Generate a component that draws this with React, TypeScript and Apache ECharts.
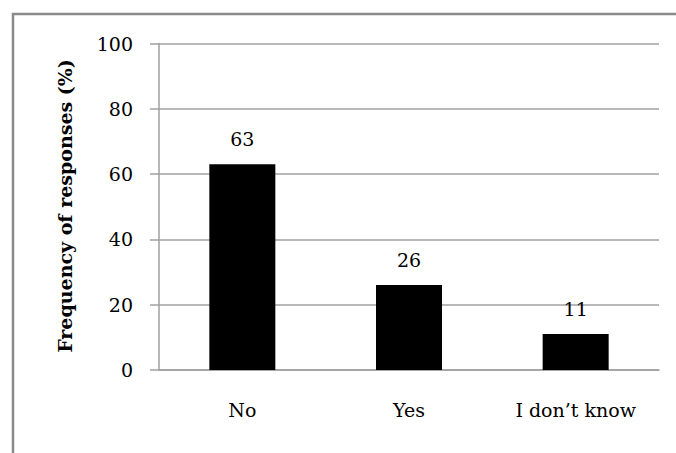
import React, { useEffect, useRef } from "react";
import * as echarts from "echarts";

const categories = ["No", "Yes", "I don\u2019t know"];
const values = [63, 26, 11];
const yTicks = [0, 20, 40, 60, 80, 100];
const yTitle = "Frequency of responses (%)";

export default function App() {
  const ref = useRef<HTMLDivElement>(null);
  useEffect(() => {
    if (!ref.current) return;
    const chart = echarts.init(ref.current, null, { renderer: "svg" });
    const font = "'DejaVu Serif', serif";
    chart.setOption({
      animation: false,
      backgroundColor: "#ffffff",
      graphic: [
        {
          type: "rect",
          shape: { x: 13, y: 14, width: 720, height: 520 },
          style: { fill: "none", stroke: "#8a8a8a", lineWidth: 2.5 },
          silent: true,
        },
        {
          type: "text",
          x: 65,
          y: 206,
          rotation: Math.PI / 2,
          style: {
            text: yTitle,
            font: `bold 19px ${font}`,
            fill: "#000",
            align: "center",
            verticalAlign: "middle",
          },
        },
      ],
      grid: { left: 159, right: 17, top: 43.5, bottom: 83, containLabel: false },
      xAxis: {
        type: "category",
        data: categories,
        axisLine: { show: true, lineStyle: { color: "#a0a0a0", width: 1.5 } },
        axisTick: { show: false },
        axisLabel: {
          margin: 30,
          fontFamily: font,
          fontSize: 19,
          color: "#000",
          lineHeight: 19,
        },
      },
      yAxis: {
        type: "value",
        min: yTicks[0],
        max: yTicks[yTicks.length - 1],
        interval: 20,
        axisLine: { show: true, lineStyle: { color: "#a0a0a0", width: 1.5 } },
        axisTick: { show: true, inside: false, length: 9, lineStyle: { color: "#a0a0a0", width: 1.5 } },
        splitLine: { show: true, lineStyle: { color: "#a0a0a0", width: 1.5 } },
        axisLabel: {
          margin: 26,
          fontFamily: font,
          fontSize: 19,
          color: "#000",
        },
      },
      series: [
        {
          type: "bar",
          data: values,
          barWidth: 66,
          itemStyle: { color: "#000" },
          label: {
            show: true,
            position: "top",
            distance: 16,
            fontFamily: font,
            fontSize: 19,
            color: "#000",
          },
        },
      ],
    });
    return () => chart.dispose();
  }, []);
  return (
    <div
      ref={ref}
      style={{ position: "fixed", left: 0, top: 0, width: 676, height: 453, background: "#fff" }}
    />
  );
}
